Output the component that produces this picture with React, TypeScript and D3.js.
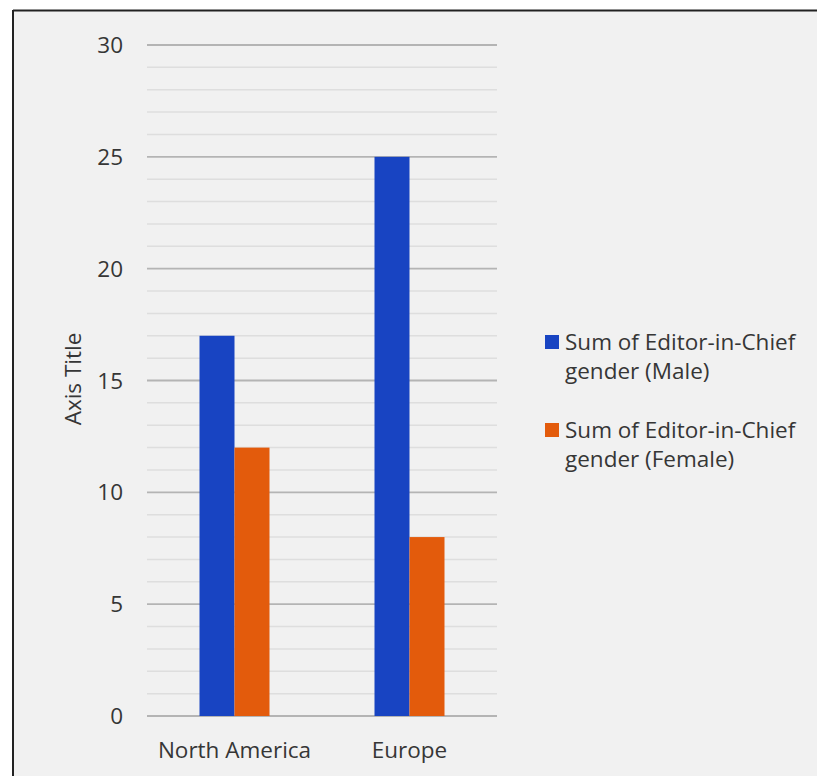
import React from "react";
import * as d3 from "d3";

const categories = ["North America", "Europe"];
const seriesNames = ["Sum of Editor-in-Chief gender (Male)", "Sum of Editor-in-Chief gender (Female)"];
const maleValues = [17, 25];
const femaleValues = [12, 8];
const yTicks = [0, 5, 10, 15, 20, 25, 30];
const colors = ["#1844c2", "#e35b0c"];
const legendLines = [["Sum of Editor-in-Chief", "gender (Male)"], ["Sum of Editor-in-Chief", "gender (Female)"]];

export default function App() {
  const W = 817, H = 776;
  const left = 147, right = 497, top = 45, bottom = 716;
  const y = d3.scaleLinear().domain([0, 30]).range([bottom, top]);
  const x = d3.scaleBand().domain(categories).range([left, right]).paddingInner(0.6).paddingOuter(0.3);
  const x1 = d3.scaleBand().domain(seriesNames).range([0, x.bandwidth()]);
  const minor = d3.range(0, 31, 1).filter((v) => v % 5 !== 0);
  const font = "'Open Sans', 'Liberation Sans', sans-serif";
  const series = [maleValues, femaleValues];
  const txt = "#363636";
  return (
    <svg width={W} height={H} style={{ position: "absolute", left: 0, top: 0 }} fontFamily={font}>
      <rect x={0} y={0} width={W} height={H} fill="#ffffff" />
      <rect x={13} y={10} width={W - 13} height={H - 10} fill="#f1f1f1" />
      <line x1={13} x2={W} y1={10.5} y2={10.5} stroke="#222" strokeWidth={2} />
      <line x1={13} x2={13} y1={10} y2={H} stroke="#222" strokeWidth={2} />
      {minor.map((v) => (
        <line key={"m" + v} x1={left} x2={right} y1={y(v)} y2={y(v)} stroke="#dedede" strokeWidth={1.5} />
      ))}
      {yTicks.map((v) => (
        <line key={"M" + v} x1={left} x2={right} y1={y(v)} y2={y(v)} stroke="#b4b4b4" strokeWidth={1.8} />
      ))}
      {categories.map((c, i) =>
        series.map((s, j) => (
          <rect key={c + j} x={(x(c) as number) + (x1(seriesNames[j]) as number)} y={y(s[i])}
            width={x1.bandwidth()} height={bottom - y(s[i])} fill={colors[j]} />
        ))
      )}
      {yTicks.map((v) => (
        <text key={"t" + v} x={123} y={y(v)} dy="0.36em" textAnchor="end" fontSize={22.5} fill={txt}>{v}</text>
      ))}
      {categories.map((c) => (
        <text key={"c" + c} x={(x(c) as number) + x.bandwidth() / 2} y={758} textAnchor="middle" fontSize={22.5} fill={txt}>{c}</text>
      ))}
      <text transform="translate(81,379) rotate(-90)" textAnchor="middle" fontSize={22.5} fill={txt}>Axis Title</text>
      {legendLines.map((lines, j) => (
        <g key={"l" + j} transform={`translate(545,${342 + j * 88})`}>
          <rect x={0} y={-7} width={14} height={14} fill={colors[j]} />
          {lines.map((t, k) => (
            <text key={k} x={20} y={k * 29} dy="0.36em" fontSize={22.5} fill={txt}>{t}</text>
          ))}
        </g>
      ))}
    </svg>
  );
}
